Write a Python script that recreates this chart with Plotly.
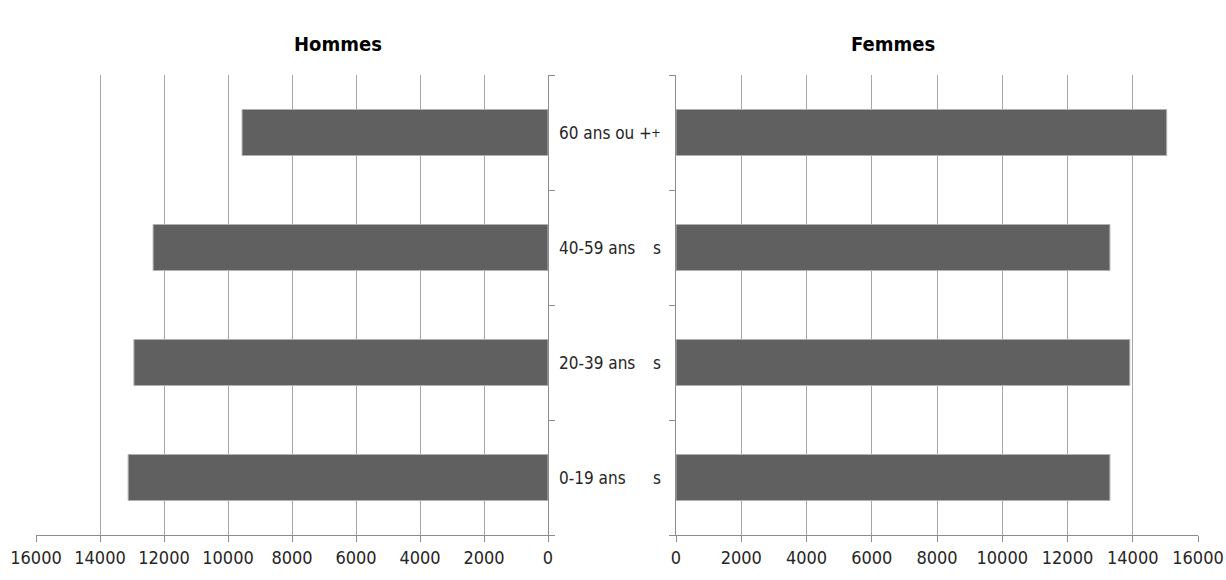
import plotly.graph_objects as go

categories = ["0-19 ans", "20-39 ans", "40-59 ans", "60 ans ou +"]
label_text = ["0-19 ans", "20-39 ans", "40-59 ans", "60 ans ou +"]
trail_text = ["s", "s", "s", "+"]
hommes = [13120, 12940, 12340, 9560]
femmes = [13300, 13910, 13300, 15040]
tick_vals = [0, 2000, 4000, 6000, 8000, 10000, 12000, 14000, 16000]
tick_text = [str(v) for v in tick_vals]

W, H = 1226, 580
def px(x): return x / W
def py(y): return 1 - y / H

FONT = "DejaVu Sans Condensed"
BAR = "#606060"
GRID = "#a6a6a6"
AX = "#8c8c8c"

fig = go.Figure()
fig.add_trace(go.Bar(y=categories, x=hommes, orientation="h", xaxis="x", yaxis="y",
                     marker=dict(color=BAR, line=dict(color="#b0b0b0", width=1)),
                     showlegend=False))
fig.add_trace(go.Bar(y=categories, x=femmes, orientation="h", xaxis="x2", yaxis="y2",
                     marker=dict(color=BAR, line=dict(color="#b0b0b0", width=1)),
                     showlegend=False))

xcommon = dict(tickvals=tick_vals, ticktext=tick_text, showgrid=True, gridcolor=GRID,
               gridwidth=1, zeroline=False, showline=True, linecolor=AX, linewidth=1,
               ticks="outside", ticklen=6, tickcolor=AX, automargin=False,
               tickfont=dict(family=FONT, size=18, color="#262626"))
ycommon = dict(type="category", categoryorder="array", categoryarray=categories,
               showgrid=False, zeroline=False, showline=True, linecolor=AX, linewidth=1,
               ticks="outside", ticklen=6, tickcolor=AX, tickson="boundaries",
               showticklabels=False, automargin=False, domain=[py(535), py(75)])

fig.update_layout(
    width=W, height=H, margin=dict(l=0, r=0, t=0, b=0),
    plot_bgcolor="white", paper_bgcolor="white",
    bargap=0.6,
    xaxis=dict(domain=[px(36), px(548)], range=[16000, 0], anchor="y", **xcommon),
    yaxis=dict(anchor="x", side="right", **ycommon),
    xaxis2=dict(domain=[px(676), px(1198)], range=[0, 16000], anchor="y2", **xcommon),
    yaxis2=dict(anchor="x2", side="left", **ycommon),
)

anns = [
    dict(text="<b>Hommes</b>", x=px(292), y=py(30), xref="paper", yref="paper",
         showarrow=False, font=dict(family=FONT, size=20, color="black")),
    dict(text="<b>Femmes</b>", x=px(937), y=py(30), xref="paper", yref="paper",
         showarrow=False, font=dict(family=FONT, size=20, color="black")),
]
for cat, lab, tr in zip(categories, label_text, trail_text):
    anns.append(dict(text=lab, x=px(557), y=cat, xref="paper", yref="y",
                     xanchor="left", showarrow=False,
                     font=dict(family=FONT, size=17, color="#262626")))
    anns.append(dict(text=tr, x=px(657 if tr == "s" else 656), y=cat, xref="paper", yref="y",
                     xanchor="center", showarrow=False,
                     font=dict(family=FONT, size=17 if tr == "s" else 13, color="#262626")))
fig.update_layout(annotations=anns)

fig.write_html("out.html", config={"displayModeBar": False},
               post_script="document.body.style.margin='0';document.body.style.overflow='hidden';")
